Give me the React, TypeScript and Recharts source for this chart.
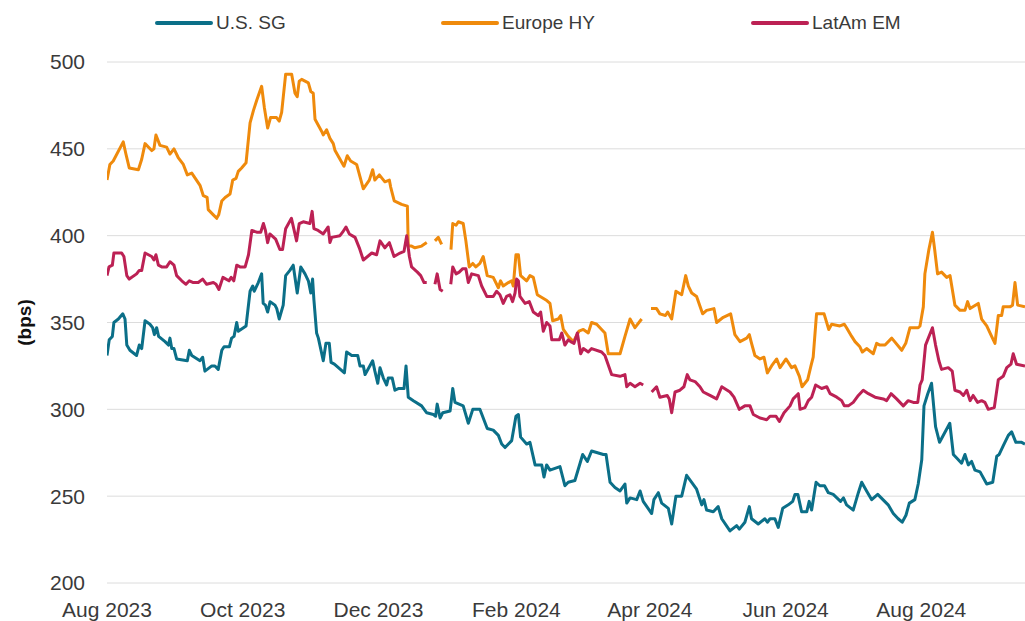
import React from "react";
import { LineChart, Line, XAxis, YAxis, CartesianGrid, Legend } from "recharts";

// x values are day offsets from 2023-08-01
const tickDays = [0, 61, 122, 184, 244, 305, 366];
const tickLabels = ["Aug 2023", "Oct 2023", "Dec 2023", "Feb 2024", "Apr 2024", "Jun 2024", "Aug 2024"];
const yTicks = [200, 250, 300, 350, 400, 450, 500];

const seriesNames = ["U.S. SG", "Europe HY", "LatAm EM"];
const seriesColors = ["#0b6f88", "#ef8a0c", "#bc2154"];

const usSG: [number, number | null][] = [[0,331],[1,340],[2.4,342],[3.1,350],[5.1,352],[7.1,355],[8.1,352],[8.9,337],[10.3,334],[13.3,331],[14.5,337],[15.6,335],[17.1,351],[19.3,349],[20.5,347],[21.3,343],[22.3,347],[23.2,342],[26.1,339],[27.6,337],[28.3,341],[29.1,335],[30.1,335],[31.3,329],[36.1,328],[37,334],[38.1,331],[41.8,328],[43,330],[44,322],[47.1,325],[48.5,325],[50,323],[51.6,334],[52.6,336],[55,336],[56,341],[57.1,342],[58.3,350],[59,345],[62.5,348],[64.3,368],[65.5,371],[66.2,368],[68,373],[69.5,378],[70.2,361],[71.2,360],[72.2,356],[73.3,362],[75.5,360],[76.3,358],[77.4,352],[79.2,360],[80.3,377],[82.2,380],[83.7,383],[85.5,367],[87.1,382],[89,378],[90.5,374],[91.6,367],[92.4,375],[93,363],[94.2,344],[95,341],[97.2,328],[98.4,338],[99.9,338],[100.7,327],[102.2,326],[106.7,321],[107.7,333],[110,331],[112.7,331],[113.7,325],[115.2,325],[116,320],[119.4,328],[120.4,322],[121.7,315],[122.7,324],[124.2,318],[125.7,314],[126.4,318],[128.2,318],[129.4,311],[131.2,312],[133.5,312],[134.4,325],[135.4,307],[137.7,305],[141.4,302],[143.7,298],[146.7,297],[147.7,296],[148.4,303],[149.7,295],[150.9,298],[154.2,299],[155.4,312],[156.4,304],[160.1,302],[162.4,292],[164.4,300],[167.6,300],[170.9,289],[173.6,288],[175.9,285],[177.4,280],[178.9,278],[181.9,282],[183.8,296],[184.9,297],[185.9,284],[188.6,280],[190.1,281],[192.4,268],[195.4,268],[196.4,261],[197.6,268],[199.1,265],[203.6,267],[205.8,256],[207.3,258],[210.3,259],[213.8,274],[215.9,270],[217.8,276],[223.1,274],[224.3,274],[226.1,258],[228.3,255],[230.6,253],[232.8,257],[233.6,246],[235.1,249],[238.1,248],[239.6,253],[241,247],[244.8,240],[245.8,248],[247.8,252],[249.3,246],[252.3,243],[253.8,234],[255.7,250],[258.3,250],[260.5,262],[262.8,258],[265,254],[267.3,245],[268.3,248],[269.5,242],[272.5,241],[274.7,244],[276.3,237],[280,230],[283,233],[284.2,231],[286.7,235],[288.7,244],[289.7,237],[292.7,234],[295.7,237],[296.8,235],[298,237],[300.2,237],[301.7,232],[303.7,243],[306.2,245],[308.2,247],[309.2,251],[310.5,251],[312.2,241],[314.5,241],[315.6,247],[316.7,242],[318.7,258],[320.4,256],[322.5,256],[324.2,252],[326.4,251],[329.7,247],[331,249],[332.4,245],[335.4,242],[337.7,252],[339.2,258],[341.4,253],[343.7,248],[346.4,251],[351.1,245],[353.4,240],[355.6,237],[357.4,235],[359.1,239],[360.6,246],[363.1,248],[364.6,257],[366.2,271],[367.2,302],[368.9,309],[370.6,315],[372.4,290],[374.2,281],[378.8,292],[380.4,274],[381.9,272],[384.1,269],[385.6,274],[387.1,268],[388.6,270],[390.1,265],[392.4,264],[395.4,257],[398.1,258],[399.9,273],[401,274],[402.8,279],[405.1,285],[406.6,287],[408.5,281],[411.1,281],[412.6,280]];

const europeHY: [number, number | null][] = [[0,432],[1.3,441],[2.8,443],[7.3,454],[8.5,447],[10,439],[14.1,438],[15.6,444],[17.1,453],[20.1,449],[21.1,450],[22,458],[23.8,452],[26.8,451],[28.3,447],[30.1,450],[32,445],[34.3,441],[36.1,435],[38.1,436],[41.8,429],[43.3,423],[45,422],[45.5,415],[47.8,412],[49.3,410],[50.2,412],[51.6,420],[53.1,422],[55.3,424],[56.5,432],[58,433],[59,437],[60.5,439],[62.5,442],[64.3,465],[65.8,472],[67.3,478],[69.5,486],[70.7,474],[72.2,462],[73.5,468],[76.2,468],[77.4,466],[78.5,471],[80.3,493],[83,493],[84.5,482],[85.5,480],[86.4,489],[87.5,490],[90.5,488],[91.6,483],[92.7,482],[93.5,467],[96.5,460],[97.2,458],[98.7,461],[100.2,456],[101.7,453],[102.5,449],[106.5,440],[108,446],[109.5,443],[112.2,441],[115.2,427],[117.9,432],[119.4,438],[120.4,432],[122.4,435],[124.9,431],[126.9,432],[127.5,428],[129.1,420],[132.4,418],[135,417],[135.4,394],[136.9,394],[138.4,393],[141.4,394],[143.7,396],[145.5,null],[147.4,397],[148.9,399],[150.4,395],[152.5,null],[154.6,392],[155.4,407],[156.9,406],[157.9,408],[160.1,407],[161.3,397],[162.8,382],[164.4,384],[165.8,382],[167.6,384],[169.1,388],[170.9,377],[173.6,376],[175.9,370],[176.9,374],[178.1,371],[180.4,373],[181.9,374],[182.6,371],[183.8,389],[184.9,389],[185.9,377],[188.6,374],[190.1,377],[191.6,376],[193.4,366],[197.3,363],[199.1,361],[200.3,351],[202.8,352],[203.9,354],[205.1,346],[207.3,342],[209.6,339],[212.1,345],[214.1,346],[216.3,344],[217.8,350],[220.1,349],[222.3,346],[223.8,344],[225.3,332],[228.3,332],[230.6,332],[232.8,342],[235.1,352],[237.3,347],[240.3,352],[242.8,null],[244.5,358],[247,358],[248.5,355],[251,354],[252,356],[253.8,352],[255.7,368],[258.3,366],[260.1,377],[261.3,371],[262.8,367],[265,365],[267.7,355],[269.5,357],[272.8,358],[274,350],[277,353],[280.3,355],[282.2,343],[284.5,339],[287.5,341],[288.7,343],[289.7,338],[291.2,331],[293.5,329],[295.3,330],[296.8,321],[298.7,325],[301,329],[302.5,324],[305.2,329],[307.7,324],[309.2,325],[311.2,319],[312.4,313],[314.9,317],[316.4,325],[317.4,330],[318.9,355],[322.3,355],[324.4,346],[325.7,349],[329.4,348],[331.4,349],[332.4,347],[334.7,342],[336.2,339],[338.4,336],[339.5,333],[341.4,335],[344.4,332],[345.9,338],[347.4,337],[349.7,337],[352.7,341],[357.2,334],[359,338],[360.9,347],[364.6,347],[365.4,348],[366.9,359],[367.6,378],[369.4,392],[371,402],[372,392],[373.3,378],[375.1,379],[377.4,376],[378.9,377],[381.1,360],[383.4,357],[385.6,357],[386.8,362],[387.9,358],[391.6,361],[393.1,352],[395.4,348],[397.6,342],[399.1,338],[400.6,354],[402.1,354],[402.8,359],[405.8,359],[407,360],[408.1,373],[409.3,360],[412.6,359]];

const latamEM: [number, number | null][] = [[0,377],[0.9,382],[2.4,383],[3.1,390],[6.6,390],[7.6,388],[8.9,377],[10,375],[13.3,378],[14.5,380],[15.6,380],[17.1,390],[20.1,388],[21.1,386],[22,389],[23.1,383],[24.6,382],[26.8,382],[28.3,385],[30.1,383],[31.3,377],[33.6,374],[35.5,372],[37,374],[38.8,373],[41,373],[43,375],[44.8,372],[47.8,373],[49,372],[50.3,369],[52.1,376],[54.8,374],[55.8,376],[57,374],[58.3,383],[59.8,382],[62.1,382],[63.6,389],[65.1,403],[67.3,402],[69.1,402],[70.3,407],[71.2,403],[72.2,396],[73.2,401],[75.8,398],[77.7,392],[78.9,392],[80.3,404],[82.9,410],[85.2,397],[86.4,407],[88.2,408],[91.2,407],[92.2,414],[93,404],[94.9,403],[97.2,401],[99.4,405],[100.2,396],[101,399],[104.7,400],[105.9,402],[107.4,405],[108.9,401],[111.5,399],[113.4,393],[115.2,386],[119,390],[121.2,389],[122.7,397],[124.9,393],[126.9,396],[129,388],[131.7,390],[133.5,391],[134.7,400],[135.9,388],[136.9,382],[139.5,379],[141,377],[142.5,373],[143.7,373],[145.5,null],[147.4,372],[148.4,378],[149.7,369],[150.9,368],[152.7,null],[154.5,372],[155.4,382],[156.9,378],[158.3,379],[159.9,381],[161.3,381],[162.4,373],[163.9,378],[166.9,377],[168.4,371],[170.7,365],[173.6,365],[175.1,368],[176.6,366],[178.1,361],[179.6,365],[181.1,366],[182.3,362],[183.4,367],[184.1,375],[184.9,374],[185.6,365],[187.9,361],[189.8,362],[191.6,356],[193.8,354],[194.9,356],[196.1,345],[197.6,350],[199.1,348],[199.9,340],[203.3,340],[204.4,344],[205.8,337],[207.3,340],[208.4,339],[209.9,338],[211.4,344],[212.9,332],[214.1,335],[216.3,333],[217.8,335],[222.3,333],[223.8,331],[226.8,320],[230.6,319],[232.8,320],[233.6,313],[235.1,315],[237.3,313],[239.6,315],[241,314],[242.9,null],[244.8,310],[247,313],[248.5,307],[251.8,308],[252.7,306],[253.8,298],[255.3,310],[257.5,311],[259.3,313],[260.8,320],[262,317],[264.3,316],[266.5,313],[268,310],[271,308],[274,306],[276.3,313],[280,310],[281.8,307],[284.2,300],[286.7,302],[289,302],[290.5,297],[293.5,295],[296.5,294],[298,296],[300.7,296],[302.2,293],[304.3,298],[307,302],[308.4,306],[310.7,309],[311.5,300],[313.7,301],[315.2,305],[316.7,307],[318.5,314],[321.2,312],[323.5,313],[325,309],[328,307],[330.2,305],[331.4,302],[333.2,302],[335.4,304],[337.7,308],[339.9,311],[342.2,309],[345.2,307],[348.9,306],[350.4,305],[352.4,309],[354.9,306],[357.9,302],[360.1,305],[362.4,304],[364.4,304],[365.4,314],[366.4,317],[367.9,337],[371,347],[372.4,337],[373.9,328],[375.1,323],[378.1,324],[379.9,322],[381.1,311],[383.4,310],[384.9,308],[386.4,311],[387.9,305],[389.3,308],[391.3,304],[393.1,305],[394.6,304],[396.1,300],[398.8,301],[400.6,317],[402.8,319],[404.4,324],[406.3,326],[407.3,332],[408.8,326],[412.6,325]];

const toRows = (arr: [number, number | null][]) => arr.map(([d, v]) => ({ d, v }));
const seriesData = [toRows(usSG), toRows(europeHY), toRows(latamEM)];

const FONT = "'Liberation Sans', Arial, sans-serif";
const TEXT = "#3a3a3a";

const legendPos = [155, 441, 751];

const LegendContent = () => (
  <div style={{ position: "relative", width: 1025, height: 44 }}>
    {seriesNames.map((name, i) => (
      <div key={name} style={{ position: "absolute", left: legendPos[i], top: 9, height: 28, display: "flex", alignItems: "center" }}>
        <svg width={58} height={8} style={{ display: "block" }}>
          <line x1={2} y1={4} x2={56} y2={4} stroke={seriesColors[i]} strokeWidth={4} strokeLinecap="round" />
        </svg>
        <span style={{ marginLeft: 3, fontSize: 19, color: TEXT, fontFamily: FONT, whiteSpace: "nowrap" }}>{name}</span>
      </div>
    ))}
  </div>
);

const BpsLabel = (props: any) => {
  const vb = props.viewBox || { x: 0, y: 62, width: 107, height: 521 };
  const cx = 24;
  const cy = vb.y + vb.height / 2;
  return (
    <text
      x={cx}
      y={cy}
      transform={`rotate(-90, ${cx}, ${cy})`}
      textAnchor="middle"
      dominantBaseline="central"
      fontSize={19}
      fontWeight="bold"
      fill="#111"
      fontFamily={FONT}
    >
      (bps)
    </text>
  );
};

export default function App() {
  return (
    <div style={{ position: "fixed", left: 0, top: 0, width: 1025, height: 621, overflow: "hidden", background: "#fff", fontFamily: FONT }}>
      <LineChart width={1025} height={621} margin={{ top: 18, right: 0, bottom: 0, left: 0 }}>
        <CartesianGrid vertical={false} stroke="#dcdcdc" strokeWidth={1} />
        <Legend
          verticalAlign="top"
          align="left"
          content={<LegendContent />}
          wrapperStyle={{ top: 0, left: 0, width: 1025, height: 44, margin: 0, padding: 0 }}
        />
        <XAxis
          dataKey="d"
          type="number"
          domain={[0, 412.6]}
          ticks={tickDays}
          tickFormatter={(v: number) => tickLabels[tickDays.indexOf(v)] ?? ""}
          axisLine={false}
          tickLine={false}
          tickSize={0}
          tickMargin={19}
          height={38}
          interval={0}
          allowDataOverflow
          tick={{ fontSize: 21, fill: TEXT, fontFamily: FONT }}
        />
        <YAxis
          type="number"
          domain={[200, 500]}
          ticks={yTicks}
          axisLine={false}
          tickLine={false}
          tickSize={0}
          tickMargin={22}
          width={107}
          interval={0}
          tick={{ fontSize: 21, fill: TEXT, fontFamily: FONT }}
          label={<BpsLabel />}
        />
        {seriesNames.map((name, i) => (
          <Line
            key={name}
            data={seriesData[i]}
            dataKey="v"
            name={name}
            type="linear"
            stroke={seriesColors[i]}
            strokeWidth={3}
            strokeLinejoin="round"
            dot={false}
            activeDot={false}
            connectNulls={false}
            isAnimationActive={false}
          />
        ))}
      </LineChart>
    </div>
  );
}
